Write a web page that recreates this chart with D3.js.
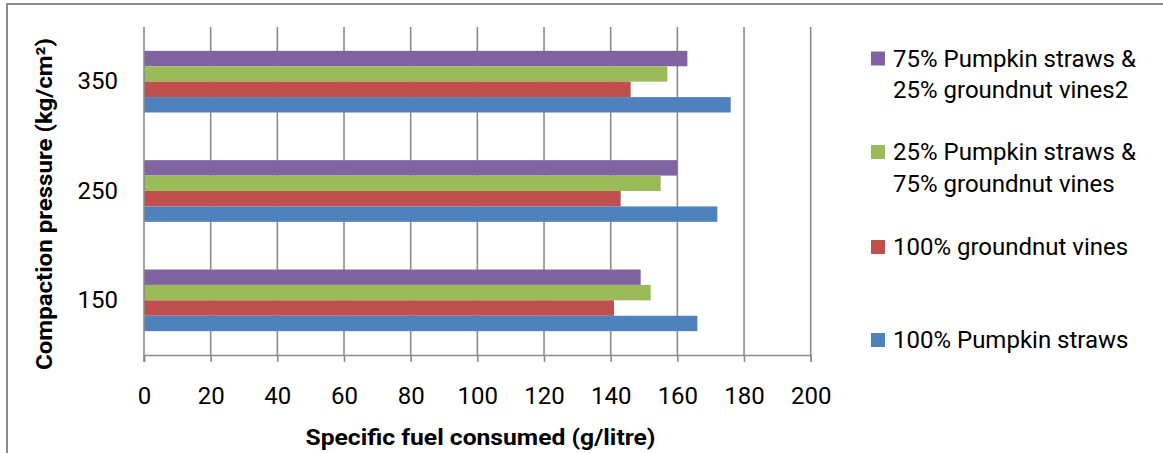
<!DOCTYPE html>
<html>
<head>
<meta charset="utf-8">
<script src="https://cdn.jsdelivr.net/npm/d3@7"></script>
<style>
  html, body { margin: 0; padding: 0; background: #fff; }
  svg { display: block; }
  text { font-family: Roboto, "Open Sans", sans-serif; fill: #000; }
</style>
</head>
<body>
<svg id="chart" width="1163" height="453"></svg>
<script>
// ---- Data ----
const categories = ["350", "250", "150"]; // top to bottom
const seriesNames = [
  "75% Pumpkin straws & 25% groundnut vines2",
  "25% Pumpkin straws & 75% groundnut vines",
  "100% groundnut vines",
  "100% Pumpkin straws"
];
const seriesColors = ["#8064A2", "#9BBB59", "#C0504D", "#4F81BD"];
// values per series, in order of categories [350, 250, 150]
const purpleValues = [163, 160, 149];
const greenValues  = [157, 155, 152];
const redValues    = [146, 143, 141];
const blueValues   = [176, 172, 166];
const seriesValues = [purpleValues, greenValues, redValues, blueValues];
const xTicks = [0, 20, 40, 60, 80, 100, 120, 140, 160, 180, 200];
const xTitle = "Specific fuel consumed (g/litre)";
const yTitle = "Compaction pressure (kg/cm²)";

// ---- Layout ----
const svg = d3.select("#chart");
const plot = { left: 144, right: 810.7, top: 27, bottom: 355 };
const gray = "#8c8c8c";

// chart frame (top and left edges visible)
svg.append("path")
  .attr("d", "M7,453 L7,4 L1163,4")
  .attr("fill", "none").attr("stroke", gray).attr("stroke-width", 2);

const x = d3.scaleLinear().domain([0, 200]).range([plot.left, plot.right]);
const p = 0.436;
const y = d3.scaleBand().domain(categories).range([plot.top, plot.bottom])
  .paddingInner(p).paddingOuter(p / 2);
const ySub = d3.scaleBand().domain(d3.range(seriesNames.length)).range([0, y.bandwidth()]);

// gridlines
svg.append("g").selectAll("line")
  .data(xTicks.filter(d => d > 0))
  .join("line")
  .attr("x1", d => x(d)).attr("x2", d => x(d))
  .attr("y1", plot.top).attr("y2", plot.bottom)
  .attr("stroke", gray).attr("stroke-width", 1.6);

// bars
seriesValues.forEach((vals, si) => {
  svg.append("g").selectAll("rect")
    .data(vals.map((v, ci) => ({ v, c: categories[ci] })))
    .join("rect")
    .attr("x", x(0))
    .attr("y", d => y(d.c) + ySub(si))
    .attr("width", d => x(d.v) - x(0))
    .attr("height", ySub.bandwidth())
    .attr("fill", seriesColors[si]);
});

// x axis
const xAxis = d3.axisBottom(x).tickValues(xTicks).tickSize(7).tickPadding(25);
const gx = svg.append("g").attr("transform", `translate(0,${plot.bottom})`).call(xAxis);
gx.select(".domain").attr("stroke", gray).attr("stroke-width", 1.6);
gx.selectAll(".tick line").attr("stroke", gray).attr("stroke-width", 1.6);
gx.selectAll(".tick text").attr("font-size", 24).attr("font-family", "Roboto, sans-serif").attr("fill", "#000");

// y axis
const yAxis = d3.axisLeft(y).tickSize(0).tickPadding(26);
const gy = svg.append("g").attr("transform", `translate(${plot.left},0)`).call(yAxis);
gy.select(".domain").attr("stroke", gray).attr("stroke-width", 1.6)
  .attr("d", `M0,${plot.top}V${plot.bottom + 7}`);
gy.selectAll(".tick text").attr("font-size", 24).attr("font-family", "Roboto, sans-serif").attr("fill", "#000");

// axis titles
svg.append("text")
  .attr("x", (305 + 656) / 2).attr("y", 445)
  .attr("text-anchor", "middle")
  .attr("font-size", 22).attr("font-weight", "bold")
  .attr("textLength", 350).attr("lengthAdjust", "spacingAndGlyphs")
  .text(xTitle);

svg.append("text")
  .attr("transform", "translate(52,204) rotate(-90)")
  .attr("text-anchor", "middle")
  .attr("font-size", 22).attr("font-weight", "bold")
  .attr("textLength", 332).attr("lengthAdjust", "spacingAndGlyphs")
  .text(yTitle);

// legend
const legendBaselines = [66.5, 160, 255, 348];
const lineGap = 31.5;
seriesNames.forEach((name, i) => {
  const lines = name.includes(" & ") ? [name.split(" & ")[0] + " &", name.split(" & ")[1]] : [name];
  const by = legendBaselines[i];
  svg.append("rect")
    .attr("x", 871).attr("y", by - 15).attr("width", 14).attr("height", 14)
    .attr("fill", seriesColors[i]);
  const t = svg.append("text").attr("x", 893).attr("y", by).attr("font-size", 24);
  lines.forEach((ln, li) => {
    t.append("tspan").attr("x", 893).attr("y", by + li * lineGap).text(ln);
  });
});
</script>
</body>
</html>
